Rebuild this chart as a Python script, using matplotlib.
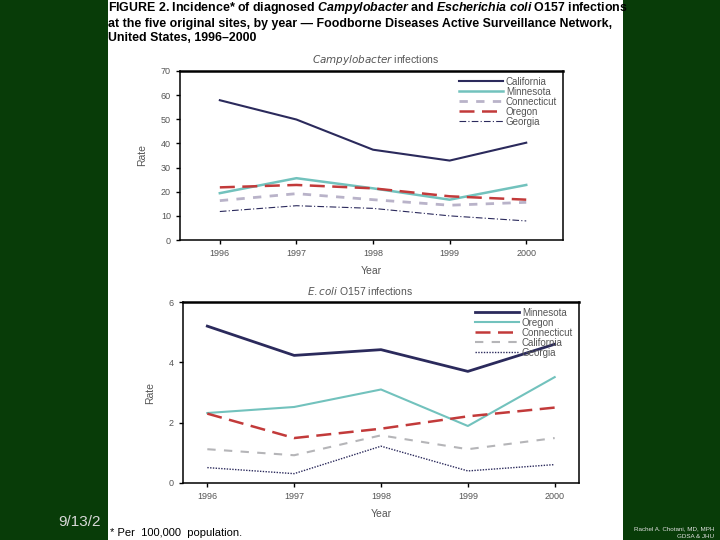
import numpy as np
import matplotlib
matplotlib.use("Agg")
import matplotlib.pyplot as plt
from matplotlib.patches import Rectangle

plt.rcParams['font.family'] = ['Liberation Sans', 'DejaVu Sans']
plt.rcParams['mathtext.fontset'] = 'custom'
plt.rcParams['mathtext.it'] = 'Liberation Sans:bold:italic'
plt.rcParams['mathtext.rm'] = 'Liberation Sans:bold'

years = [1996, 1997, 1998, 1999, 2000]

# Campylobacter rates per 100,000
campy_states = ["California", "Minnesota", "Connecticut", "Oregon", "Georgia"]
campy_ca = [57.9, 49.9, 37.4, 32.9, 40.3]
campy_mn = [19.4, 25.6, 21.4, 16.7, 22.8]
campy_ct = [16.3, 19.2, 16.7, 14.4, 15.6]
campy_or = [21.8, 22.8, 21.4, 18.1, 16.7]
campy_ga = [11.8, 14.2, 13.1, 10.0, 7.9]

# E. coli O157 rates per 100,000
ecoli_states = ["Minnesota", "Oregon", "Connecticut", "California", "Georgia"]
ecoli_mn = [5.20, 4.23, 4.42, 3.70, 4.60]
ecoli_or = [2.32, 2.52, 3.10, 1.89, 3.51]
ecoli_ct = [2.30, 1.49, 1.80, 2.21, 2.50]
ecoli_ca = [1.12, 0.92, 1.58, 1.12, 1.49]
ecoli_ga = [0.51, 0.31, 1.22, 0.40, 0.61]

navy = "#2b2a5c"
teal = "#72c2bd"
lilac = "#b9b3c9"
red = "#c23a3a"
tick_col = "#555555"

fig = plt.figure(figsize=(7.2, 5.4), dpi=100)
fig.patch.set_facecolor("#083c08")

# white slide panel
fig.patches.append(Rectangle((108 / 720, 0), 515 / 720, 1, transform=fig.transFigure,
                             facecolor="white", edgecolor="none", zorder=1))

fig.text(58 / 720, 1 - 522 / 540, "9/13/2", color="#d8d8d8", fontsize=11,
         va="center", ha="left", zorder=0)
fig.text(714 / 720, 1 - 529 / 540, "Rachel A. Chotani, MD, MPH", color="#e0e0e0",
         fontsize=4.5, ha="right", va="center", zorder=2)
fig.text(714 / 720, 1 - 537 / 540, "GDSA & JHU", color="#e0e0e0",
         fontsize=4.5, ha="right", va="center", zorder=2)

title = ("FIGURE 2. Incidence* of diagnosed $\\mathit{Campylobacter}$ and "
         "$\\mathit{Escherichia\\ coli}$ O157 infections\n"
         "at the five original sites, by year \u2014 Foodborne Diseases Active Surveillance Network,\n"
         "United States, 1996\u20132000")
fig.text(108 / 720, 1 - 0 / 540, title, fontsize=8.9, fontweight="bold", ha="left",
         va="top", linespacing=1.2, zorder=2)

fig.text(110 / 720, 1 - 533 / 540, "* Per  100,000  population.", fontsize=8,
         ha="left", va="center", zorder=2)


def style_axes(ax, ylim, yticks):
    ax.set_xlim(*ylim[0])
    ax.set_ylim(*ylim[1])
    ax.set_xticks(years)
    ax.set_yticks(yticks)
    ax.tick_params(labelsize=6.5, colors="black", labelcolor=tick_col, length=3, width=1)
    for s in ax.spines.values():
        s.set_linewidth(1.1)
    ax.spines["top"].set_linewidth(1.8)
    ax.set_ylabel("Rate", fontsize=7.5, color=tick_col, labelpad=10)
    ax.set_xlabel("Year", fontsize=7.5, color=tick_col, labelpad=6)


# Campylobacter
ax1 = fig.add_axes([180 / 720, 1 - 240 / 540, 383 / 720, 169 / 540], zorder=3)
ax1.plot(years, campy_ca, color=navy, lw=1.5, label=campy_states[0])
ax1.plot(years, campy_mn, color=teal, lw=1.8, label=campy_states[1])
ax1.plot(years, campy_ct, color=lilac, lw=2, dashes=(3, 3), label=campy_states[2])
ax1.plot(years, campy_or, color=red, lw=1.8, dashes=(6, 3), label=campy_states[3])
ax1.plot(years, campy_ga, color=navy, lw=0.8, dashes=(6, 2, 1, 2), label=campy_states[4])
style_axes(ax1, ((1995.48, 2000.48), (0, 70)), range(0, 71, 10))
ax1.legend(loc="upper right", bbox_to_anchor=(1.0, 1.0), frameon=False, fontsize=7,
           labelspacing=0.0, handlelength=4.5, handletextpad=0.3, borderaxespad=0.2,
           labelcolor=tick_col)
fig.text(376 / 720, 1 - 60 / 540, "$\\it{Campylobacter}$ infections", fontsize=7.5,
         color=tick_col, ha="center", va="center", math_fontfamily="dejavusans", zorder=2)

# E. coli O157
ax2 = fig.add_axes([183 / 720, 1 - 483 / 540, 396 / 720, 181 / 540], zorder=3)
ax2.plot(years, ecoli_mn, color=navy, lw=2, label=ecoli_states[0])
ax2.plot(years, ecoli_or, color=teal, lw=1.5, label=ecoli_states[1])
ax2.plot(years, ecoli_ct, color=red, lw=1.8, dashes=(6, 3), label=ecoli_states[2])
ax2.plot(years, ecoli_ca, color="#b5b5b8", lw=1.5, dashes=(4, 4), label=ecoli_states[3])
ax2.plot(years, ecoli_ga, color=navy, lw=1, dashes=(1, 1), label=ecoli_states[4])
style_axes(ax2, ((1995.72, 2000.28), (0, 6)), [0, 2, 4, 6])
ax2.legend(loc="upper right", bbox_to_anchor=(1.0, 1.0), frameon=False, fontsize=7,
           labelspacing=0.0, handlelength=4.5, handletextpad=0.3, borderaxespad=0.2,
           labelcolor=tick_col)
fig.text(360 / 720, 1 - 291 / 540, "$\\it{E. coli}$ O157 infections", fontsize=7.5,
         color=tick_col, ha="center", va="center", math_fontfamily="dejavusans", zorder=2)

fig.savefig("out.png", dpi=100, facecolor=fig.get_facecolor())
